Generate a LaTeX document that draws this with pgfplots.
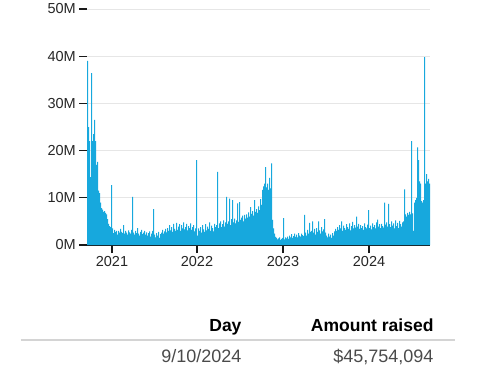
\documentclass[border=0pt]{standalone}
\usepackage{pgfplots}
\usepackage{pgfplotstable}
\pgfplotsset{compat=1.18}
\usepackage{fontspec}
\setmainfont{Liberation Sans}
\definecolor{barblue}{HTML}{17A8DD}
\definecolor{gridgray}{HTML}{E6E6E6}
\definecolor{rulegray}{HTML}{D4D4D4}
\definecolor{rowgray}{HTML}{4A4A4A}
\pgfplotstableread{
y
39.0
25.0
22.0
14.4
36.4
22.0
23.5
26.5
22.0
17.0
17.6
11.5
11.0
9.0
7.8
7.5
7.0
7.2
6.8
6.5
5.5
4.5
4.0
3.8
12.7
3.5
2.5
3.2
2.8
3.0
2.2
3.0
2.6
3.4
2.8
2.5
4.2
2.4
3.0
2.6
2.2
3.1
2.7
2.4
3.2
10.2
2.6
2.2
3.0
2.5
3.6
2.4
2.0
2.8
3.2
2.3
2.6
3.0
2.2
2.7
2.0
2.5
2.9
1.8
2.4
3.0
7.6
2.2
1.6
2.5
2.0
2.8
1.5
2.3
2.6
3.2
2.4
2.9
3.4
2.7
3.6
3.0
4.2
3.1
3.8
2.8
4.5
3.4
3.0
4.7
3.2
3.9
4.4
3.0
4.2
3.5
4.8
3.3
3.8
4.5
3.1
4.0
3.6
4.6
3.2
3.8
4.2
2.9
3.5
18.0
2.0
3.5
3.0
3.8
2.6
4.2
3.3
2.8
4.4
3.1
3.9
3.4
4.8
3.0
4.1
3.6
2.9
4.5
3.8
4.2
15.5
3.6
4.6
5.0
3.8
4.4
5.2
3.9
4.8
10.2
4.5
5.0
9.8
4.2
5.5
9.5
4.8
5.6
4.6
5.2
8.8
4.9
9.1
5.3
5.8
6.2
5.0
6.4
5.6
6.5
5.8
6.9
6.0
8.0
6.6
7.2
6.2
9.5
7.0
7.6
6.8
8.2
7.4
9.7
8.5
11.7
12.4
13.0
16.5
12.2
13.0
11.7
14.2
12.0
17.3
5.3
3.5
2.4
1.7
1.5
1.2
1.4
1.6
1.1
1.3
1.5
5.7
1.2
1.6
1.4
1.8
1.3
2.0
1.6
2.3
1.5
1.9
2.4
1.7
2.2
1.6
2.5
2.0
1.8
2.4
2.1
1.9
6.4
2.6
2.0
3.2
2.4
4.7
2.8
3.0
5.0
2.6
3.4
2.2
3.6
2.8
5.0
3.1
2.4
3.8
2.9
3.3
5.5
2.6
2.0
1.6
2.4
1.8
2.2
1.5
2.5
2.0
2.9
3.4
3.0
3.8
3.2
4.2
3.5
5.0
3.0
4.1
3.6
3.2
4.4
3.8
3.4
4.6
3.1
4.0
4.9
3.5
4.2
3.7
6.0
3.9
4.5
3.4
4.2
3.6
4.0
3.2
4.6
3.8
3.5
4.3
7.4
3.6
4.1
3.3
4.6
3.8
4.2
3.5
4.8
5.4
3.9
4.4
3.6
4.5
4.0
3.7
9.0
4.3
4.8
3.9
8.7
4.4
3.8
5.0
4.1
4.6
3.5
5.2
4.0
4.7
3.6
5.1
4.4
3.9
4.8
5.0
11.8
6.5
6.0
6.8
6.4
7.0
6.5
22.0
6.7
3.0
9.0
9.5
10.0
20.7
18.0
13.5
13.0
9.3
9.0
9.5
39.8
13.0
15.0
13.5
14.0
13.0
13.0
}\amounts
\begin{document}
\begin{tikzpicture}[x=1pt,y=1pt]
\path[use as bounding box] (0,0) rectangle (487,-372);
\begin{axis}[
  at={(87pt,-245pt)}, anchor=south west,
  scale only axis, width=343pt, height=236pt,
  xmin=0, xmax=343, ymin=0, ymax=50,
  axis x line*=bottom, axis y line*=left,
  y axis line style={draw=none},
  x axis line style={-, line width=1.1pt, color=black!90},
  tick align=outside,
  major tick length=8pt,
  ytick={0,10,20,30,40,50},
  yticklabels={0M,10M,20M,30M,40M,50M},
  xtick={25,110,196,282},
  xticklabels={2021,2022,2023,2024},
  y tick style={black!90, line width=1.2pt},
  x tick style={black!90, line width=1.1pt},
  minor tick num=0,
  ymajorgrids,
  grid style={gridgray, line width=0.8pt},
  tick label style={font=\fontsize{14.5}{15}\selectfont, text=black!85},
  yticklabel style={inner xsep=3pt},
  xticklabel style={inner ysep=3pt},
  clip=false,
]
\addplot[draw=none, fill=barblue, const plot] table[x expr=\coordindex, y=y] {\amounts} \closedcycle;
\end{axis}
\node[anchor=base east, font=\fontsize{17.5}{18}\selectfont\bfseries] at (245,-331.7) {Day};
\node[anchor=base east, font=\fontsize{17.5}{18}\selectfont\bfseries] at (437,-331.7) {Amount raised};
\draw[rulegray, line width=1.3pt] (20.5,-340) -- (455,-340);
\node[anchor=base east, font=\fontsize{18}{18}\selectfont, text=rowgray] at (245,-362.7) {9/10/2024};
\node[anchor=base east, font=\fontsize{18}{18}\selectfont, text=rowgray] at (437,-362.7) {\$45,754,094};
\end{tikzpicture}
\end{document}
